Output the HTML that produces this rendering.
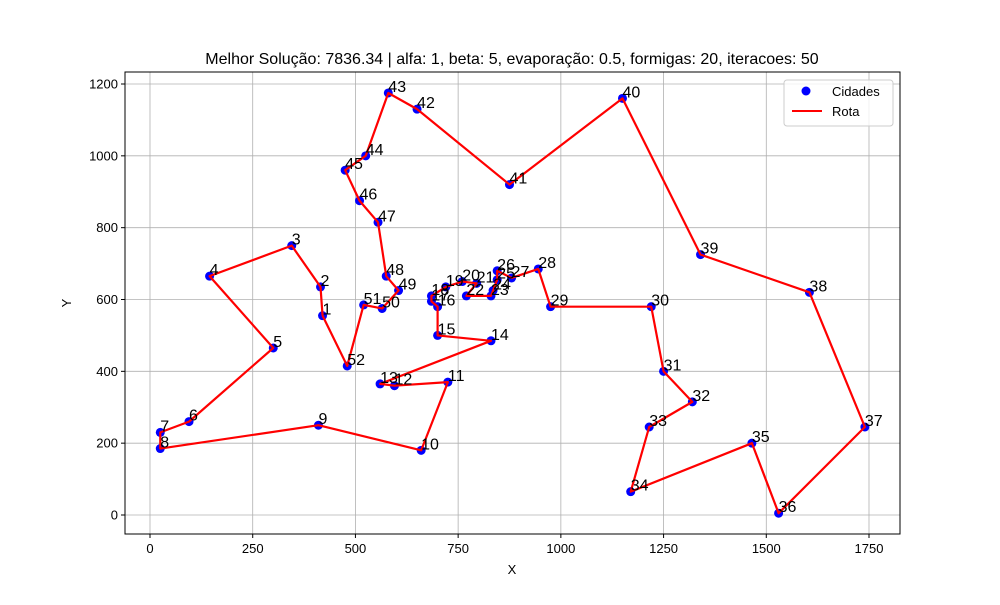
<!DOCTYPE html>
<html><head><meta charset="utf-8"><style>
body{margin:0;background:#fff}
svg text{font-family:"Liberation Sans","DejaVu Sans",sans-serif}
</style></head><body>
<svg id="chart" width="1000" height="600" xmlns="http://www.w3.org/2000/svg">
<rect width="1000" height="600" fill="#fff"/>
<text x="512" y="64" font-size="16" text-anchor="middle">Melhor Solução: 7836.34 | alfa: 1, beta: 5, evaporação: 0.5, formigas: 20, iteracoes: 50</text>
<g id="grid"></g>
<g id="route"></g>
<g id="cities"></g>
<g id="labels"></g>
<rect x="125" y="72" width="775" height="462" fill="none" stroke="#000" stroke-width="1"/>
<g id="ticks"></g>
<text x="512" y="574" font-size="13" text-anchor="middle">X</text>
<text x="71" y="303" font-size="13" text-anchor="middle" transform="rotate(-90 71 303)">Y</text>
<g>
<rect x="784" y="80" width="109" height="46" rx="3" fill="#fff" fill-opacity="0.8" stroke="#ccc"/>
<circle cx="806" cy="91" r="4.5" fill="#00f"/>
<text x="832" y="96" font-size="13">Cidades</text>
<line x1="792" y1="111" x2="822" y2="111" stroke="#f00" stroke-width="2"/>
<text x="832" y="116" font-size="13">Rota</text>
</g>
</svg>
<script>
const xs=[420,415,345,145,300,95,25,25,410,660,725,595,560,830,700,700,685,685,720,760,795,770,830,835,845,845,880,945,975,1220,1250,1320,1215,1170,1465,1530,1740,1605,1340,1150,875,650,580,525,475,510,555,575,605,565,520,480];
const ys=[555,635,750,665,465,260,230,185,250,180,370,360,365,485,500,580,595,610,635,650,645,610,610,625,655,680,660,685,580,580,400,315,245,65,200,5,245,620,725,1160,920,1130,1175,1000,960,875,815,665,625,575,585,415];
const xTicks=[0,250,500,750,1000,1250,1500,1750];
const yTicks=[0,200,400,600,800,1000,1200];
const NS="http://www.w3.org/2000/svg";
const X=v=>150+v*(719/1750);
const Y=v=>515-v*(431/1200);
function mk(t,a,p){const e=document.createElementNS(NS,t);for(const k in a)e.setAttribute(k,a[k]);p.appendChild(e);return e;}
const grid=document.getElementById('grid'),ticks=document.getElementById('ticks');
xTicks.forEach(t=>{const x=X(t);
const g=mk('line',{x1:x,x2:x,y1:72,y2:534,stroke:'#b0b0b0','stroke-width':0.8},grid);


mk('line',{x1:x,x2:x,y1:534,y2:538,stroke:'#000'},ticks);
const tx=mk('text',{x:x,y:553,'font-size':13,'text-anchor':'middle'},ticks);tx.textContent=t;

});
yTicks.forEach(t=>{const y=Y(t);
const g=mk('line',{x1:125,x2:900,y1:y,y2:y,stroke:'#b0b0b0','stroke-width':0.8},grid);


mk('line',{x1:121,x2:125,y1:y,y2:y,stroke:'#000'},ticks);
const tx=mk('text',{x:118,y:y+4.5,'font-size':13,'text-anchor':'end'},ticks);tx.textContent=t;

});
const cities=document.getElementById('cities'),labels=document.getElementById('labels');
xs.forEach((v,i)=>{
const c=mk('circle',{cx:X(v),cy:Y(ys[i]),r:4.5,fill:'#00f'},cities);


const t=mk('text',{x:X(v),y:Y(ys[i])-1,'font-size':16},labels);t.textContent=i+1;

});
let pts=xs.map((v,i)=>X(v)+','+Y(ys[i]));pts.push(pts[0]);
const pl=mk('polyline',{points:pts.join(' '),fill:'none',stroke:'#f00','stroke-width':2.2,'stroke-linejoin':'round'},document.getElementById('route'));


document.getElementById('chart').appendChild(document.getElementById('route'));
document.getElementById('chart').appendChild(labels);
</script>
</body></html>
